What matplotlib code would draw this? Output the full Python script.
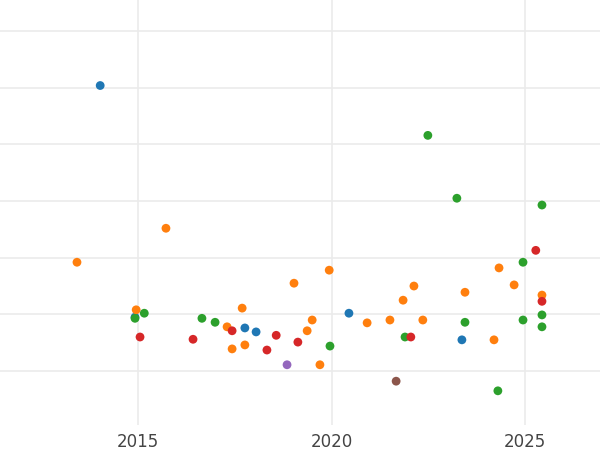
import matplotlib
matplotlib.use("Agg")
import matplotlib.pyplot as plt

blue_x = [2014.02, 2014.92, 2017.76, 2018.05, 2020.45, 2023.37]
blue_y = [5.04, 0.95, 0.76, 0.69, 1.02, 0.55]
orange_x = [2013.42, 2014.95, 2015.72, 2017.30, 2017.43, 2017.69, 2017.76, 2019.03, 2019.37, 2019.50, 2019.70,
            2019.94, 2020.92, 2021.51, 2021.85, 2022.13, 2022.36, 2023.45, 2024.20, 2024.33, 2024.72, 2025.44]
orange_y = [1.92, 1.08, 2.52, 0.78, 0.39, 1.11, 0.46, 1.55, 0.71, 0.90, 0.11,
            1.78, 0.85, 0.90, 1.25, 1.50, 0.90, 1.39, 0.55, 1.82, 1.52, 1.34]
green_x = [2014.92, 2015.16, 2016.65, 2016.99, 2019.96, 2021.90, 2022.49, 2023.24, 2023.45, 2024.30,
           2024.95, 2024.95, 2025.44, 2025.44, 2025.44]
green_y = [0.93, 1.02, 0.93, 0.86, 0.44, 0.60, 4.16, 3.05, 0.86, -0.35, 0.90, 1.92, 2.93, 0.99, 0.78]
red_x = [2015.05, 2016.42, 2017.43, 2018.33, 2018.57, 2019.13, 2022.05, 2025.28, 2025.44]
red_y = [0.60, 0.56, 0.71, 0.37, 0.63, 0.51, 0.60, 2.13, 1.23]
purple_x = [2018.85]
purple_y = [0.11]
brown_x = [2021.67]
brown_y = [-0.18]

series = [(blue_x, blue_y, "#1f77b4"), (orange_x, orange_y, "#ff7f0e"), (green_x, green_y, "#2ca02c"),
          (red_x, red_y, "#d62728"), (purple_x, purple_y, "#9467bd"), (brown_x, brown_y, "#8c564b")]

fig = plt.figure(figsize=(6, 4.5), dpi=100)
ax = fig.add_axes([0, 0.056, 1, 0.944])
for xs, ys, c in series:
    ax.scatter(xs, ys, s=40, color=c, edgecolors="none", zorder=3)
ax.set_xlim(2011.43, 2026.94)
ax.set_ylim(-0.95, 6.55)
ax.set_xticks([2015, 2020, 2025])
ax.set_yticks([0, 1, 2, 3, 4, 5, 6])
ax.set_yticklabels([])
ax.grid(True, color="#ebebeb", linewidth=1.2, zorder=0)
for s in ax.spines.values():
    s.set_visible(False)
ax.tick_params(length=0, labelsize=12, labelcolor="#444444", pad=6)
fig.savefig("out.png", dpi=100)
